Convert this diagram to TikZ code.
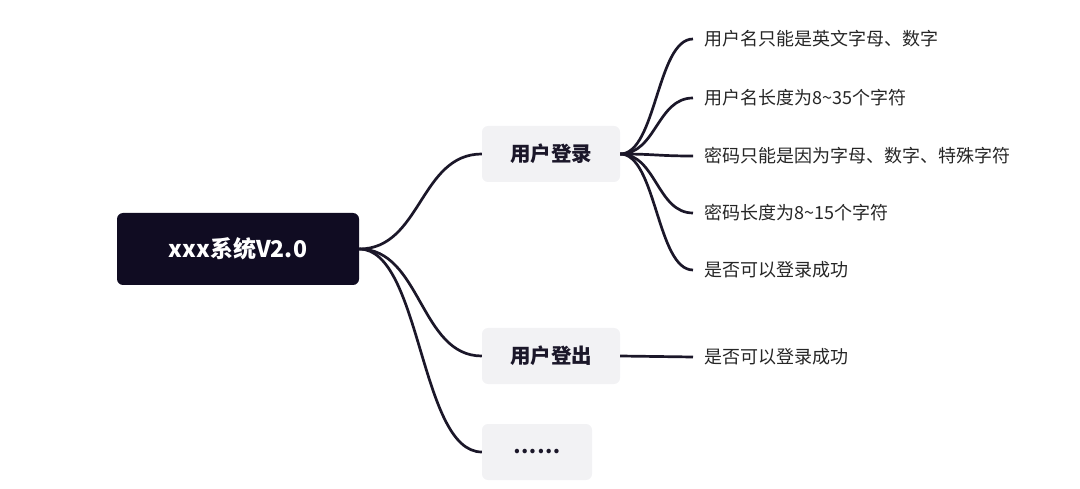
\documentclass[tikz,border=0pt]{standalone}
\usepackage{fontspec}
\newfontfamily\cjk{Noto Sans CJK SC}
\definecolor{rootfill}{HTML}{100C22}
\definecolor{boxfill}{HTML}{F2F2F4}
\definecolor{linecol}{HTML}{1B1729}
\tikzset{
  rootbox/.style={fill=rootfill, rounded corners=6pt, minimum width=242pt,
    minimum height=72pt, text=white, font=\cjk\bfseries\fontsize{23}{26}\selectfont},
  topicbox/.style={fill=boxfill, rounded corners=6pt, minimum height=56pt,
    text=linecol, font=\cjk\bfseries\fontsize{20.5}{24}\selectfont},
  leaf/.style={anchor=west, inner xsep=11pt, inner ysep=0pt, text=black!85,
    font=\cjk\fontsize{18}{20}\selectfont},
  branch/.style={draw=linecol, line width=2.7pt},
}
\begin{document}
\begin{tikzpicture}[x=1pt,y=-1pt]
  \useasboundingbox (0,0) rectangle (1080,489);
  % main nodes
  \node[rootbox] (root) at (238,249) {xxx系统V2.0};
  \node[topicbox, minimum width=138pt] (login) at (551,154) {用户登录};
  \node[topicbox, minimum width=138pt] (logout) at (551,356) {用户登出};
  \node[topicbox, minimum width=110pt] (more) at (537,452) {……};
  % leaves
  \node[leaf] (l1) at (693,39) {用户名只能是英文字母、数字};
  \node[leaf] (l2) at (693,98) {用户名长度为8\textasciitilde35个字符};
  \node[leaf] (l3) at (693,156) {密码只能是因为字母、数字、特殊字符};
  \node[leaf] (l4) at (693,213) {密码长度为8\textasciitilde15个字符};
  \node[leaf] (l5) at (693,270) {是否可以登录成功};
  \node[leaf] (l6) at (693,357) {是否可以登录成功};
  % branches
  \foreach \t in {login,logout,more}
    \draw[branch] (root.east) .. controls +(62,0) and +(-62,0) .. (\t.west);
  \foreach \t in {l1,l2,l3,l4,l5}
    \draw[branch] (login.east) .. controls +(36,0) and +(-36,0) .. (\t.west);
  \draw[branch] (logout.east) -- (l6.west);
\end{tikzpicture}
\end{document}
